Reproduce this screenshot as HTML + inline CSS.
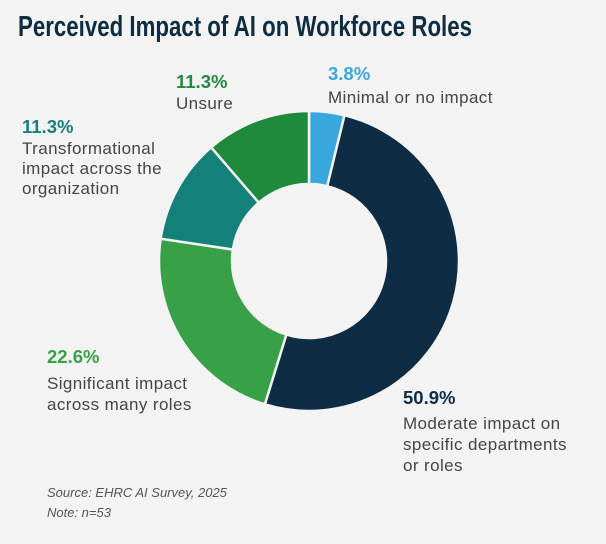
<!DOCTYPE html>
<html><head><meta charset="utf-8"><style>
html,body{margin:0;padding:0;background:#f3f3f4;}
svg{display:block;}
</style></head><body>
<svg id="chart" width="606" height="544" viewBox="0 0 606 544" xmlns="http://www.w3.org/2000/svg">
<rect width="606" height="544" fill="#f3f3f4"/>
<text x="18" y="36" font-family="Liberation Sans, sans-serif" font-weight="bold" font-size="29" fill="#0f2d40" textLength="454" lengthAdjust="spacingAndGlyphs">Perceived Impact of AI on Workforce Roles</text>
<g id="slices"></g>
<g font-family="Liberation Sans, sans-serif" font-size="17" letter-spacing="0.4" fill="#454545">
<g>
<text x="328" y="80" font-weight="bold" font-size="18.5" letter-spacing="0" fill="#3aa8df">3.8%</text>
<text x="328" y="103">Minimal or no impact</text>
</g>
<g>
<text x="176" y="88" font-weight="bold" font-size="18.5" letter-spacing="0" fill="#23893e">11.3%</text>
<text x="176" y="109">Unsure</text>
</g>
<g>
<text x="22" y="133" font-weight="bold" font-size="18.5" letter-spacing="0" fill="#17807a">11.3%</text>
<text x="22" y="154">Transformational</text>
<text x="22" y="174">impact across the</text>
<text x="22" y="194">organization</text>
</g>
<g>
<text x="47" y="363" font-weight="bold" font-size="18.5" letter-spacing="0" fill="#38a046">22.6%</text>
<text x="47" y="389">Significant impact</text>
<text x="47" y="410">across many roles</text>
</g>
<g>
<text x="403" y="404" font-weight="bold" font-size="18.5" letter-spacing="0" fill="#0e2d45">50.9%</text>
<text x="403" y="429">Moderate impact on</text>
<text x="403" y="450">specific departments</text>
<text x="403" y="471">or roles</text>
</g>
<g font-style="italic" font-size="13" letter-spacing="0" fill="#555">
<text x="47" y="497">Source: EHRC AI Survey, 2025</text>
<text x="47" y="517">Note: n=53</text>
</g>
</g>
</svg>
<script>
const categories = ["Minimal or no impact","Moderate impact on specific departments or roles","Significant impact across many roles","Transformational impact across the organization","Unsure"];
const values = [3.8, 50.9, 22.6, 11.3, 11.3];
const colors = ["#3aa8df","#0e2d45","#38a046","#14807a","#1f8a3c"];
const cx = 309, cy = 261, R = 150, r = 77;
const g = document.getElementById('slices');
const total = values.reduce((a,b)=>a+b,0);
function pt(rad, frac){ const a = frac*2*Math.PI - Math.PI/2; return [cx+rad*Math.cos(a), cy+rad*Math.sin(a)]; }
let acc = 0;
values.forEach((v,i)=>{
  const f0 = acc/total, f1 = (acc+v)/total; acc += v;
  const large = (f1-f0) > 0.5 ? 1 : 0;
  const [x0,y0]=pt(R,f0),[x1,y1]=pt(R,f1),[x2,y2]=pt(r,f1),[x3,y3]=pt(r,f0);
  const p = document.createElementNS('http://www.w3.org/2000/svg','path');
  p.setAttribute('d',`M${x0},${y0} A${R},${R} 0 ${large} 1 ${x1},${y1} L${x2},${y2} A${r},${r} 0 ${large} 0 ${x3},${y3} Z`);
  p.setAttribute('fill',colors[i]);
  p.setAttribute('stroke','#f3f3f4');
  p.setAttribute('stroke-width','2.5');
  
  
  g.appendChild(p);
});
</script>
</body></html>
